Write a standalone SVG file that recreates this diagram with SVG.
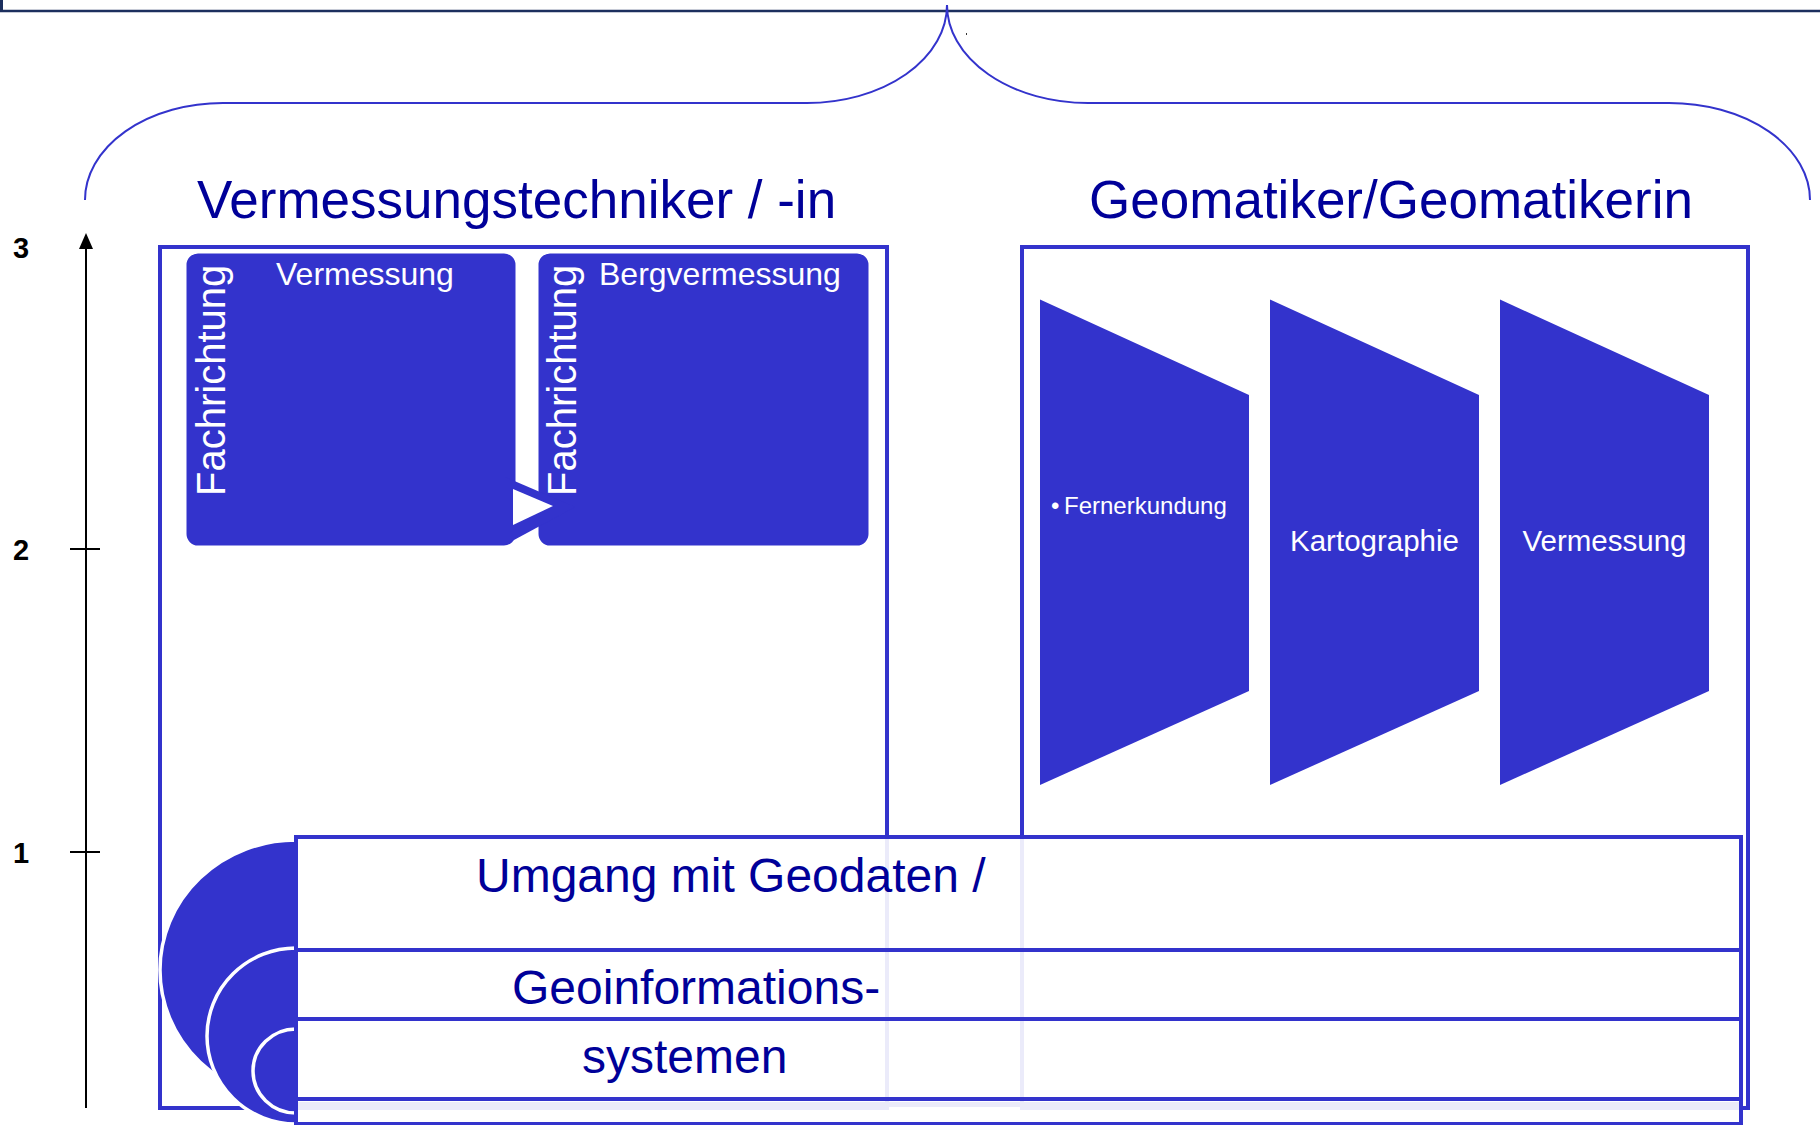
<svg xmlns="http://www.w3.org/2000/svg" width="1820" height="1125" viewBox="0 0 1820 1125">
<style>
text{font-family:"Liberation Sans",Arial,sans-serif}
.title{font-size:53px;fill:#000099;text-anchor:middle}
.band-text{font-size:48px;fill:#000099}
.white{fill:#ffffff}
.frame{fill:none;stroke:#3333cc;stroke-width:4}
.block{fill:#3333cc;stroke:#ffffff;stroke-width:3}
.trap{fill:#3333cc}
.band{fill:#ffffff;fill-opacity:0.9;stroke:#3333cc;stroke-width:4}
.half{fill:#3333cc;stroke:#ffffff;stroke-width:3.5}
.axis{stroke:#000000;stroke-width:2;fill:none}
.num{font-size:29px;font-weight:bold;fill:#000000}
</style>

<g id="header">
<rect x="0" y="0" width="3" height="12" fill="#1c2f5e"/>
<line x1="0" y1="11" x2="1820" y2="11" stroke="#1c2f5e" stroke-width="2.5"/>
<rect x="966" y="33" width="1" height="2" fill="#333333"/>
</g>

<g id="brace" fill="none" stroke="#3333cc" stroke-width="2">
<path d="M85,200 A138,97 0 0 1 223,103 L807,103 A140,98 0 0 0 947,5"/>
<path d="M947,5 A141,98 0 0 0 1088,103 L1669,103 A141,97 0 0 1 1810,200"/>
</g>

<g id="axis">
<line class="axis" x1="86" y1="246" x2="86" y2="1108"/>
<polygon points="86,233 79,249 93,249" fill="#000000"/>
<line class="axis" x1="70" y1="549" x2="100" y2="549"/>
<line class="axis" x1="70" y1="852" x2="100" y2="852"/>
<text class="num" x="13" y="258">3</text>
<text class="num" x="13" y="560">2</text>
<text class="num" x="13" y="863">1</text>
</g>

<g id="title-vermessungstechniker">
<text class="title" x="516.5" y="218">Vermessungstechniker / -in</text>
</g>
<g id="title-geomatiker">
<text class="title" x="1391" y="218">Geomatiker/Geomatikerin</text>
</g>

<g id="box-left">
<rect class="frame" x="160" y="247" width="727" height="861"/>
</g>
<g id="box-right">
<rect class="frame" x="1022" y="247" width="726" height="861"/>
</g>

<g id="block-vermessung">
<rect class="block" x="185" y="252" width="332" height="295" rx="13"/>
<text class="white" x="276" y="285" font-size="32">Vermessung</text>
<text class="white" font-size="40" transform="translate(225,496) rotate(-90)">Fachrichtung</text>
</g>

<g id="block-bergvermessung">
<rect class="block" x="537" y="252" width="333" height="295" rx="13"/>
<text class="white" x="599" y="285" font-size="32">Bergvermessung</text>
<text class="white" font-size="40" transform="translate(576,496) rotate(-90)">Fachrichtung</text>
</g>

<g id="connectors">
<polygon points="505,477 505,545 575,507" fill="#3333cc"/>
<polygon points="513,489 513,525 553,506" fill="#ffffff"/>
</g>

<g id="trap-fernerkundung">
<polygon class="trap" points="1040,299.5 1249,395 1249,691 1040,785"/>
<text class="white" font-size="24" y="514"><tspan x="1051">•</tspan><tspan x="1064">Fernerkundung</tspan></text>
</g>
<g id="trap-kartographie">
<polygon class="trap" points="1270,299.5 1479,395 1479,691 1270,785"/>
<text class="white" font-size="29.5" x="1374.5" y="551" text-anchor="middle">Kartographie</text>
</g>
<g id="trap-vermessung">
<polygon class="trap" points="1500,299.5 1709,395 1709,691 1500,785"/>
<text class="white" font-size="29.5" x="1604.5" y="551" text-anchor="middle">Vermessung</text>
</g>

<g id="stack-circles">
<path class="half" d="M296,840 A136,130 0 0 0 296,1100 Z"/>
<path class="half" d="M296,948 A89,88 0 0 0 296,1124 Z"/>
<path class="half" d="M296,1029 A43,42 0 0 0 296,1113 Z"/>
</g>

<g id="band-geodaten">
<rect class="band" x="296" y="837" width="1445" height="113"/>
<text class="band-text" x="476" y="892">Umgang mit Geodaten /</text>
</g>
<g id="band-geoinformations">
<rect class="band" x="296" y="950" width="1445" height="69"/>
<text class="band-text" x="512" y="1004">Geoinformations-</text>
</g>
<g id="band-systemen">
<rect class="band" x="296" y="1019" width="1445" height="80"/>
<text class="band-text" x="582" y="1073">systemen</text>
</g>
<g id="band-bottom">
<rect class="band" x="296" y="1099" width="1445" height="25"/>
<rect x="298" y="1102" width="1441" height="5" fill="#ebebf9"/>
</g>
</svg>
